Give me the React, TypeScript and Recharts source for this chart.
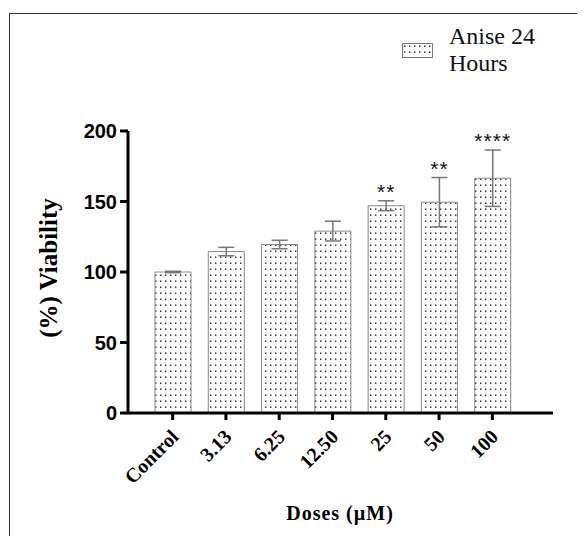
import { Bar, BarChart, ErrorBar, XAxis, YAxis } from "recharts";

const doses = ["Control", "3.13", "6.25", "12.50", "25", "50", "100"];
const viability = [100, 114.5, 119.5, 129, 147, 149.5, 166.5];
const sem = [0.5, 3, 3, 7, 3.5, 17.5, 20];
const stars = ["", "", "", "", "**", "**", "****"];
const yTicks = [0, 50, 100, 150, 200];

const data = doses.map((dose, i) => ({ dose, v: viability[i], err: sem[i] }));

const serif = '"Liberation Serif", "Times New Roman", serif';
const sans = '"Liberation Sans", Arial, sans-serif';

const DoseTick = ({ x, y, payload }: any) => (
  <g transform={`translate(${x + 7},${y + 16})`}>
    <text
      textAnchor="end"
      transform="rotate(-45)"
      fontFamily={serif}
      fontWeight="bold"
      fontSize={20}
      fill="#000"
    >
      {payload.value}
    </text>
  </g>
);

const renderStars = (props: any) => {
  const { x, y, width, height, value, index } = props;
  const mark = stars[index];
  if (!mark) return null;
  const perUnit = height / value;
  const top = y - sem[index] * perUnit;
  return (
    <text
      x={x + width / 2}
      y={top - 2}
      textAnchor="middle"
      fontFamily={sans}
      fontSize={21}
      letterSpacing={1}
      fill="#111"
    >
      {mark}
    </text>
  );
};

const DotPattern = ({ id }: { id: string }) => (
  <pattern id={id} width={5} height={6} patternUnits="userSpaceOnUse">
    <rect width={5} height={6} fill="#fff" />
    <rect x={2} y={2.5} width={1.4} height={1.4} fill="#222" />
  </pattern>
);

const Swatch = () => (
  <svg width={31} height={15} style={{ position: "absolute", left: 394, top: 35 }}>
    <defs>
      <DotPattern id="dots-legend" />
    </defs>
    <rect x={0.5} y={0.5} width={30} height={14} fill="url(#dots-legend)" stroke="#777" />
  </svg>
);

export default function App() {
  return (
    <div style={{ position: "relative", width: 577, height: 528, overflow: "hidden" }}>
      <div
        style={{
          position: "absolute",
          left: 1,
          top: 5,
          width: 600,
          height: 600,
          borderTop: "1.5px solid #333",
          borderLeft: "1.5px solid #333",
        }}
      />
      <BarChart
        width={577}
        height={528}
        data={data}
        margin={{ top: 123, right: 32, bottom: 63, left: 60 }}
        style={{ position: "absolute", left: 0, top: 0 }}
      >
        <defs>
          <DotPattern id="dots" />
        </defs>
        <XAxis
          dataKey="dose"
          height={60}
          padding={{ left: 18, right: 34 }}
          axisLine={{ stroke: "#000", strokeWidth: 3 }}
          tickLine={{ stroke: "#000", strokeWidth: 3 }}
          tickSize={7}
          tick={<DoseTick />}
          interval={0}
        />
        <YAxis
          width={60}
          domain={[0, 200]}
          ticks={yTicks}
          axisLine={{ stroke: "#000", strokeWidth: 3 }}
          tickLine={{ stroke: "#000", strokeWidth: 3 }}
          tickSize={8}
          tickMargin={3}
          tick={{ fontFamily: sans, fontWeight: "bold", fontSize: 20, fill: "#000" }}
        />
        <Bar
          dataKey="v"
          barSize={36}
          fill="url(#dots)"
          stroke="#888"
          strokeWidth={1}
          isAnimationActive={false}
          label={renderStars}
        >
          <ErrorBar dataKey="err" width={8} stroke="#777" strokeWidth={1.5} isAnimationActive={false} />
        </Bar>
      </BarChart>
      <Swatch />
      <div
        style={{
          position: "absolute",
          left: 441,
          top: 15,
          fontFamily: serif,
          fontSize: 24,
          lineHeight: "27px",
          color: "#111",
        }}
      >
        Anise 24
        <br />
        Hours
      </div>
      <div
        style={{
          position: "absolute",
          left: 41,
          top: 260,
          transform: "translate(-50%, -50%) rotate(-90deg)",
          whiteSpace: "nowrap",
          fontFamily: serif,
          fontWeight: "bold",
          fontSize: 25,
          color: "#000",
        }}
      >
        (%) Viability
      </div>
      <div
        style={{
          position: "absolute",
          left: 332,
          top: 505,
          transform: "translate(-50%, -50%)",
          whiteSpace: "nowrap",
          fontFamily: serif,
          fontWeight: "bold",
          fontSize: 20,
          letterSpacing: 1,
          color: "#000",
        }}
      >
        Doses (µM)
      </div>
    </div>
  );
}
